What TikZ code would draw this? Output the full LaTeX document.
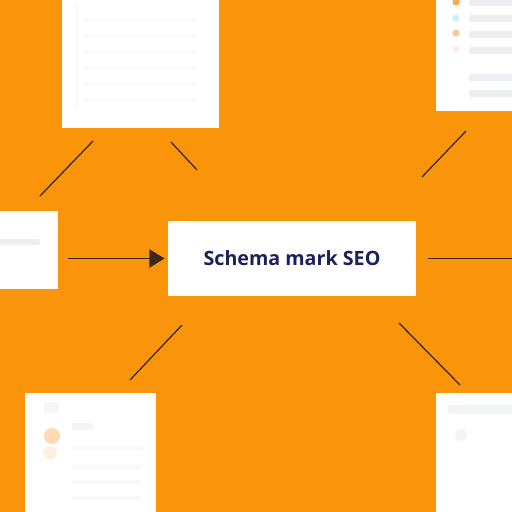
\documentclass[tikz,border=0pt]{standalone}
\usepackage{fontspec}
\setmainfont{Open Sans}
\usepackage{tikz}
\usetikzlibrary{positioning}
\usetikzlibrary{arrows.meta}
\definecolor{bgorange}{RGB}{250,148,10}
\definecolor{navytext}{RGB}{30,32,92}
\definecolor{linkdark}{RGB}{58,40,22}
\definecolor{fadegray}{RGB}{238,239,243}

\begin{document}
\begin{tikzpicture}[x=0.025cm, y=-0.025cm]
		\tikzstyle{card}=[rectangle, fill=white, draw=none, inner sep=0pt]
		\tikzstyle{link}=[line width=0.9pt, color=linkdark]
		\tikzstyle{bar}=[fill=fadegray, draw=none, rounded corners=1pt]
		\tikzset{>={Triangle[length=3.8mm, width=4.6mm]}}
		\useasboundingbox (0,0) rectangle (512,512);
		\fill[bgorange] (0,0) rectangle (512,512);
		\clip (0,0) rectangle (512,512);

		% cards round the middle
		\node[card, minimum width=3.925cm, minimum height=3.45cm] (topleft) at (140.5,59) {};
		\node[card, minimum width=2.15cm, minimum height=3.025cm] (topright) at (479,50.5) {};
		\node[card, minimum width=1.7cm, minimum height=1.95cm] (leftcard) at (24,250) {};
		\node[card, minimum width=3.275cm, minimum height=3.225cm] (botleft) at (90.5,457.5) {};
		\node[card, minimum width=2.15cm, minimum height=3.225cm] (botright) at (479,457.5) {};

		% faint content of the cards
		\fill[fadegray!35] (76,2) rectangle (78,110);
		\foreach \y in {18,34,50,66,82,98}
			\fill[fadegray!25] (84,\y) rectangle (196,\y+5);
		\fill[orange!70] (456,2) circle (3.5);
		\fill[cyan!20] (456,18) circle (3.5);
		\fill[orange!45] (456,33) circle (3.5);
		\fill[red!8] (456,49) circle (3.5);
		\foreach \y in {2,18,34,50,77,93}
			\path[bar] (469,\y-3) rectangle (515,\y+4);
		\path[bar] (-5,239) rectangle (40,245);
		\path[bar, fill=fadegray!60] (44,402) rectangle (58,413);
		\path[bar, fill=fadegray!60] (72,423) rectangle (93,430);
		\fill[orange!30] (52,436) circle (8);
		\fill[orange!12] (50,453) circle (7);
		\foreach \y in {447,465,480,496}
			\fill[fadegray!40] (72,\y) rectangle (142,\y+4);
		\path[bar, fill=fadegray!70] (448,405) rectangle (515,414);
		\fill[fadegray!70] (461,435) circle (6);

		% middle box
		\node[card, minimum width=6.2cm, minimum height=1.875cm, font=\fontsize{14}{17}\selectfont\bfseries, text=navytext] (schema) at (292,258.5) {Schema mark SEO};

		% connectors
		\coordinate (rightend) at (520,258.5);
		\path (leftcard.east |- schema.west) edge[link, ->, shorten <=0.25cm, shorten >=0.08cm] (schema.west);
		\path (schema) edge[link, shorten <=0.3cm] (rightend);

		\coordinate (d1a) at (40,196);
		\coordinate (d1b) at (93,141);
		\coordinate (d2a) at (171,142);
		\coordinate (d2b) at (197,170);
		\coordinate (d3a) at (422,177);
		\coordinate (d3b) at (466,131);
		\coordinate (d4a) at (130,380);
		\coordinate (d4b) at (182,325);
		\coordinate (d5a) at (399,323);
		\coordinate (d5b) at (460,385);
		\path (d1a) edge[link] (d1b);
		\path (d2a) edge[link] (d2b);
		\path (d3a) edge[link] (d3b);
		\path (d4a) edge[link] (d4b);
		\path (d5a) edge[link] (d5b);

	\end{tikzpicture}
\end{document}
